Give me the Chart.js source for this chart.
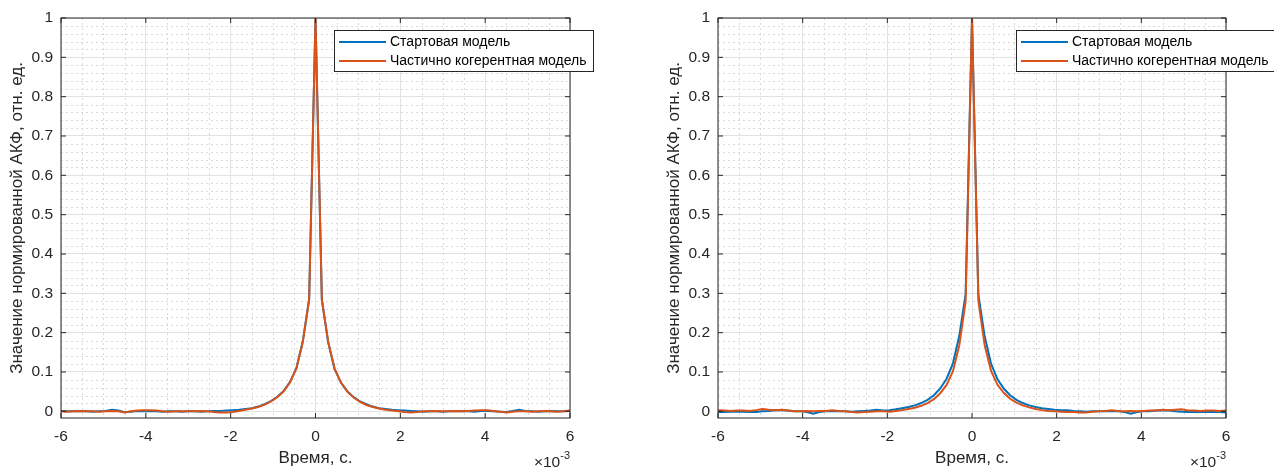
<!DOCTYPE html>
<html><head><meta charset="utf-8">
<script src="https://cdn.jsdelivr.net/npm/chart.js@4.4.1/dist/chart.umd.min.js"></script>
<style>
html,body{margin:0;padding:0;background:#fff;}
#wrap{position:relative;width:1274px;height:470px;overflow:hidden;background:#fff;}
.pane{position:absolute;top:0;width:637px;height:470px;}
</style></head><body>
<div id="wrap">
<div class="pane" style="left:0"><canvas id="c1" width="637" height="470"></canvas></div>
<div class="pane" style="left:637px"><canvas id="c2" width="637" height="470"></canvas></div>
</div>
<script>
// time, in units of 1e-3 s
const timeMs = [-6,-5.85,-5.7,-5.55,-5.4,-5.25,-5.1,-4.95,-4.8,-4.65,-4.5,-4.35,-4.2,-4.05,-3.9,-3.75,-3.6,-3.45,-3.3,-3.15,-3,-2.85,-2.7,-2.55,-2.4,-2.25,-2.1,-1.95,-1.8,-1.65,-1.5,-1.35,-1.2,-1.05,-0.9,-0.75,-0.6,-0.45,-0.3,-0.15,0,0.15,0.3,0.45,0.6,0.75,0.9,1.05,1.2,1.35,1.5,1.65,1.8,1.95,2.1,2.25,2.4,2.55,2.7,2.85,3,3.15,3.3,3.45,3.6,3.75,3.9,4.05,4.2,4.35,4.5,4.65,4.8,4.95,5.1,5.25,5.4,5.55,5.7,5.85,6];

const leftStart = [0.001,0.000,0.000,0.001,0.000,-0.001,0.000,0.001,0.004,0.002,-0.002,-0.001,0.001,0.000,0.001,0.000,-0.001,0.000,0.000,-0.001,0.000,0.000,-0.001,0.000,0.001,0.001,0.002,
0.003,0.004,0.006,0.008,0.012,0.018,0.026,0.037,0.052,0.075,0.110,0.178,0.285,
1.0,
0.283,0.175,0.108,0.073,0.051,0.036,0.025,0.018,0.012,0.008,0.006,0.004,0.003,
0.002,0.001,0.000,-0.001,0.000,0.000,-0.001,0.000,0.000,0.001,0.000,-0.001,0.001,0.001,0.000,-0.001,-0.002,0.001,0.004,0.001,0.000,-0.001,0.000,0.001,0.000,0.000,0.001];

const leftPartial = [0.000,-0.001,0.000,0.001,0.000,0.000,-0.001,0.000,0.001,0.000,-0.003,0.000,0.002,0.003,0.003,0.002,0.000,-0.001,0.000,0.000,0.000,0.000,0.001,0.000,-0.002,-0.003,-0.003,
-0.002,0.001,0.004,0.007,0.011,0.017,0.025,0.036,0.051,0.074,0.109,0.176,0.283,
1.0,
0.284,0.176,0.108,0.073,0.050,0.035,0.024,0.016,0.011,0.007,0.004,0.002,0.000,
-0.002,-0.003,-0.002,0.000,0.000,0.001,0.000,0.000,0.001,0.000,0.001,0.002,0.003,0.003,0.001,-0.001,-0.003,-0.001,0.000,0.000,-0.001,0.000,0.001,0.000,-0.001,0.000,0.002];

const rightStart = [-0.002,-0.002,-0.001,-0.001,-0.001,-0.002,-0.002,0.000,0.001,0.003,0.003,0.002,0.000,0.000,-0.002,-0.006,-0.002,0.000,0.001,0.000,0.000,-0.001,0.000,0.001,0.002,0.004,0.002,
0.003,0.005,0.008,0.011,0.015,0.021,0.029,0.041,0.058,0.083,0.122,0.192,0.298,
1.0,
0.297,0.190,0.121,0.082,0.058,0.041,0.029,0.021,0.015,0.011,0.008,0.006,0.004,
0.003,0.003,0.001,0.000,-0.001,0.000,0.000,0.000,0.001,0.000,-0.002,-0.006,-0.002,0.000,0.000,0.002,0.003,0.002,0.000,-0.001,-0.002,-0.002,-0.002,-0.001,-0.002,-0.002,-0.003];

const rightPartial = [0.003,0.002,0.001,0.002,0.002,0.001,0.003,0.006,0.004,0.003,0.004,0.002,0.000,0.000,0.001,0.000,0.001,0.001,0.003,0.001,0.000,-0.002,-0.003,-0.002,-0.001,0.000,0.000,
-0.001,0.001,0.003,0.006,0.009,0.014,0.021,0.031,0.046,0.067,0.102,0.168,0.280,
1.0,
0.281,0.168,0.103,0.068,0.047,0.032,0.022,0.015,0.010,0.006,0.003,0.001,0.000,
-0.001,-0.002,-0.002,-0.003,-0.003,-0.001,0.000,0.001,0.003,0.001,0.000,0.001,0.000,0.001,0.002,0.002,0.004,0.003,0.004,0.005,0.002,0.002,0.001,0.002,0.002,0.001,0.002];

const xTickValues = [-6,-4,-2,0,2,4,6];
const xTickLabels = ['-6','-4','-2','0','2','4','6'];
const yTickValues = [0,0.1,0.2,0.3,0.4,0.5,0.6,0.7,0.8,0.9,1];
const yTickLabels = ['0','0.1','0.2','0.3','0.4','0.5','0.6','0.7','0.8','0.9','1'];
const seriesNames = ['Стартовая модель','Частично когерентная модель'];
const xTitle = 'Время, с.';
const yTitle = 'Значение нормированной АКФ, отн. ед.';
const xExponent = '-3';

const BLUE = '#0072BD', ORANGE = '#D95319';
const FONT = '"Liberation Sans", Arial, Helvetica, sans-serif';
const AXC = '#262626';

function pts(ys){ return timeMs.map((t,i)=>({x:t,y:ys[i]})); }

const decorPlugin = {
  id:'decor',
  beforeDatasetsDraw(chart){
    const {ctx, chartArea:a, scales:{x,y}} = chart;
    ctx.save();
    ctx.strokeStyle = '#dadada';
    ctx.lineWidth = 1;
    ctx.setLineDash([2,3]);
    for(let i=0;i<xTickValues.length-1;i++){
      const v0=xTickValues[i], v1=xTickValues[i+1];
      for(let j=1;j<4;j++){
        const px = Math.round(x.getPixelForValue(v0+(v1-v0)*j/4))+0.5;
        ctx.beginPath(); ctx.moveTo(px,a.top); ctx.lineTo(px,a.bottom); ctx.stroke();
      }
    }
    for(let i=0;i<yTickValues.length-1;i++){
      const v0=yTickValues[i], v1=yTickValues[i+1];
      for(let j=1;j<5;j++){
        const py = Math.round(y.getPixelForValue(v0+(v1-v0)*j/5))+0.5;
        ctx.beginPath(); ctx.moveTo(a.left,py); ctx.lineTo(a.right,py); ctx.stroke();
      }
    }
    ctx.restore();
  },
  afterDatasetsDraw(chart){
    const {ctx, chartArea:a, scales:{x,y}} = chart;
    ctx.save();
    ctx.strokeStyle = AXC;
    ctx.lineWidth = 1;
    ctx.setLineDash([]);
    const tl = 5;
    ctx.beginPath();
    xTickValues.forEach(v=>{
      const px = x.getPixelForValue(v);
      ctx.moveTo(px,a.bottom); ctx.lineTo(px,a.bottom-tl);
      ctx.moveTo(px,a.top); ctx.lineTo(px,a.top+tl);
    });
    yTickValues.forEach(v=>{
      const py = y.getPixelForValue(v);
      ctx.moveTo(a.left,py); ctx.lineTo(a.left+tl,py);
      ctx.moveTo(a.right,py); ctx.lineTo(a.right-tl,py);
    });
    ctx.stroke();
    ctx.strokeRect(a.left,a.top,a.right-a.left,a.bottom-a.top);
    ctx.restore();
  },
  afterDraw(chart, args, opts){
    const {ctx, chartArea:a} = chart;
    ctx.save();
    ctx.fillStyle = AXC;
    ctx.textBaseline = 'alphabetic';
    ctx.font = '11px '+FONT;
    const supW = ctx.measureText(xExponent).width;
    ctx.textAlign = 'right';
    ctx.fillText(xExponent, a.right, 459);
    ctx.font = '15.5px '+FONT;
    ctx.fillText('\u00d710', a.right - supW, 467);
    const L = opts.box;
    ctx.fillStyle = '#fff';
    ctx.fillRect(L.x, L.y, L.w, L.h);
    ctx.strokeStyle = AXC;
    ctx.lineWidth = 1;
    ctx.strokeRect(L.x+0.5, L.y+0.5, L.w, L.h);
    const colors = [BLUE, ORANGE];
    ctx.font = '14px '+FONT;
    ctx.textAlign = 'left';
    ctx.textBaseline = 'middle';
    seriesNames.forEach((name,i)=>{
      const cy = L.y + 12 + i*19;
      ctx.strokeStyle = colors[i];
      ctx.lineWidth = 2;
      ctx.beginPath(); ctx.moveTo(L.x+5, cy); ctx.lineTo(L.x+52, cy); ctx.stroke();
      ctx.fillStyle = '#000';
      ctx.fillText(name, L.x+56, cy);
    });
    ctx.restore();
  }
};

function makeChart(id, startVals, partialVals, padLeft, padRight, legendX){
  return new Chart(document.getElementById(id), {
    type:'line',
    data:{
      datasets:[
        {label:seriesNames[0], data:pts(startVals), borderColor:BLUE, borderWidth:2, pointRadius:0, tension:0, fill:false, order:2},
        {label:seriesNames[1], data:pts(partialVals), borderColor:ORANGE, borderWidth:2, pointRadius:0, tension:0, fill:false, order:1}
      ]
    },
    options:{
      responsive:false, animation:false, devicePixelRatio:1,
      layout:{padding:{left:padLeft, right:padRight, top:18, bottom:0}},
      plugins:{legend:{display:false}, tooltip:{enabled:false},
        decor:{box:{x:legendX, y:30, w:259, h:41}}},
      scales:{
        x:{type:'linear', min:-6, max:6,
          afterBuildTicks(s){ s.ticks = xTickValues.map(v=>({value:v})); },
          afterFit(s){ s.height = 52; },
          grid:{color:'#e2e2e2', lineWidth:1, drawTicks:false},
          border:{display:false},
          ticks:{autoSkip:false, maxRotation:0, padding:9, color:AXC,
            font:{family:FONT, size:15.5},
            callback(v){ const i = xTickValues.indexOf(v); return i>=0 ? xTickLabels[i] : ''; }},
          title:{display:true, text:xTitle, color:AXC, font:{family:FONT, size:17}, padding:{top:0,bottom:1}}
        },
        y:{type:'linear', min:-0.017, max:1,
          afterBuildTicks(s){ s.ticks = yTickValues.map(v=>({value:v})); },
          afterFit(s){ s.width = 61; },
          grid:{color:'#e2e2e2', lineWidth:1, drawTicks:false},
          border:{display:false},
          ticks:{autoSkip:false, padding:8, color:AXC,
            font:{family:FONT, size:15.5},
            callback(v){ const i = yTickValues.indexOf(v); return i>=0 ? yTickLabels[i] : ''; }},
          title:{display:true, text:yTitle, color:AXC, font:{family:FONT, size:17}, padding:{top:7,bottom:0}}
        }
      }
    },
    plugins:[decorPlugin]
  });
}

makeChart('c1', leftStart, leftPartial, 0, 67, 334);
makeChart('c2', rightStart, rightPartial, 20, 48, 379);
</script>
</body></html>
